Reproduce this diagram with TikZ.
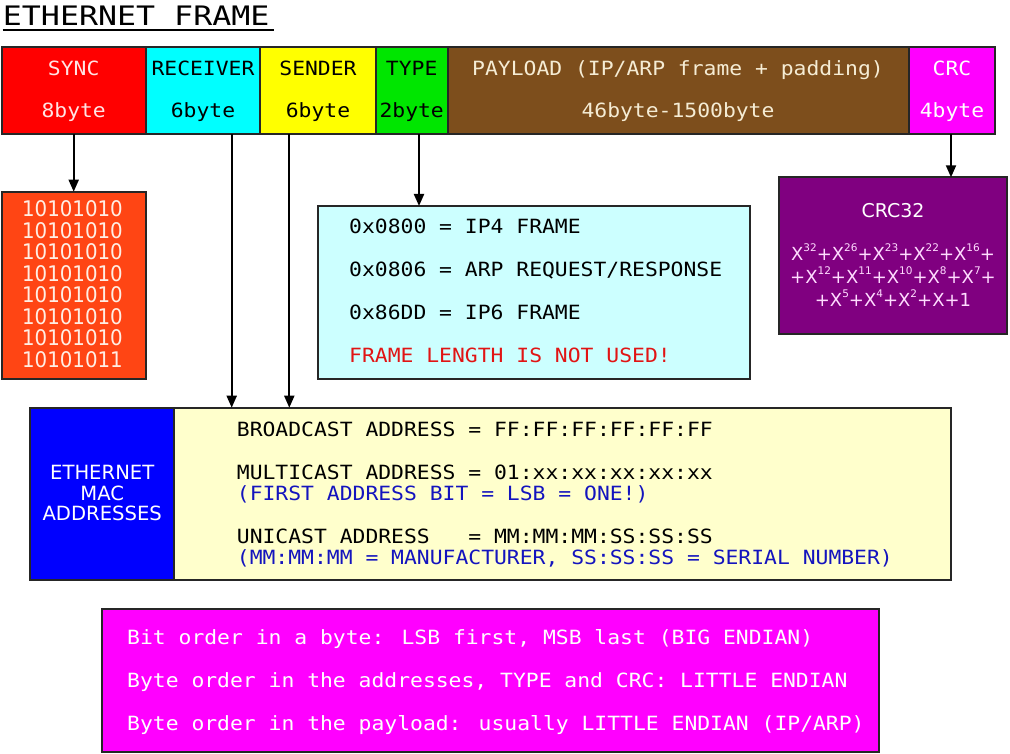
\documentclass[tikz,border=0pt]{standalone}
\usepackage{fontspec}
\setmainfont{DejaVu Sans}
\newfontfamily\monof[FakeStretch=1.09]{DejaVu Sans Mono}
\newfontfamily\titlef[FakeStretch=1.18]{DejaVu Sans Mono}
\newfontfamily\condf[FakeStretch=0.92]{DejaVu Sans}
\usetikzlibrary{arrows.meta,calc}
\newcommand\crcexp[1]{\raisebox{0.5em}{\fontsize{10.5}{10.5}\selectfont #1}}
\definecolor{cSync}{RGB}{255,0,0}
\definecolor{cRecv}{RGB}{0,255,255}
\definecolor{cSend}{RGB}{255,255,0}
\definecolor{cType}{RGB}{0,230,0}
\definecolor{cPay}{RGB}{125,78,28}
\definecolor{cCrc}{RGB}{255,0,255}
\definecolor{cSyncBox}{RGB}{255,69,20}
\definecolor{cTypeBox}{RGB}{204,255,255}
\definecolor{cCrcBox}{RGB}{128,0,128}
\definecolor{cMacL}{RGB}{0,0,255}
\definecolor{cMacR}{RGB}{255,255,204}
\definecolor{cBottom}{RGB}{255,0,255}
\definecolor{tPink}{RGB}{255,228,228}
\definecolor{tCream}{RGB}{245,236,212}
\definecolor{tRed}{RGB}{225,20,20}
\definecolor{tBlue}{RGB}{20,20,190}
\definecolor{tLight}{RGB}{255,238,228}
\definecolor{tCrc}{RGB}{255,220,255}
\begin{document}
\begin{tikzpicture}[x=1pt,y=-1pt,
  box/.style={draw=black!85, line width=2pt, inner sep=0pt, outer sep=0pt, anchor=north west},
  mt/.style={font=\monof\fontsize{19.6}{20}\selectfont, inner sep=0pt},
  mtw/.style={mt, anchor=base west},
  mtc/.style={mt, anchor=base},
  crct/.style={inner sep=0pt, anchor=base, text=tCrc, font=\fontsize{18}{18}\selectfont},
  arr/.style={line width=2pt, draw=black, -{Triangle[length=12pt,width=10pt]}}]
\useasboundingbox (0,0) rectangle (1010,754);
\fill[white] (0,0) rectangle (1010,754);

% title
\node[inner sep=0pt, anchor=base west, font=\titlef\fontsize{26.8}{27}\selectfont] (title) at (2.7,25.3) {ETHERNET FRAME};
\draw[line width=2pt] ([yshift=-5pt]title.base west) -- ([yshift=-5pt,xshift=4pt]title.base east);

% frame cells
\node[box, fill=cSync, minimum width=144pt, minimum height=87pt] (sync) at (1.7,47.3) {};
\node[box, fill=cRecv, minimum width=114.6pt, minimum height=87pt] (recv) at (145.7,47.3) {};
\node[box, fill=cSend, minimum width=115.4pt, minimum height=87pt] (send) at (260.3,47.3) {};
\node[box, fill=cType, minimum width=72pt, minimum height=87pt] (type) at (375.7,47.3) {};
\node[box, fill=cPay, minimum width=461.3pt, minimum height=87pt] (pay) at (447.7,47.3) {};
\node[box, fill=cCrc, minimum width=86pt, minimum height=87pt] (crc) at (909,47.3) {};

\node[mtc, text=tPink] (syncA) at (73.7,75.3) {SYNC};
\node[mtc, text=tPink] (syncB) at (73.7,117.5) {8byte};
\node[mtc] (recvA) at (203,75.3) {RECEIVER};
\node[mtc] (recvB) at (203,117.5) {6byte};
\node[mtc] (sendA) at (318,75.3) {SENDER};
\node[mtc] (sendB) at (318,117.5) {6byte};
\node[mtc] (typeA) at (411.7,75.3) {TYPE};
\node[mtc] (typeB) at (411.7,117.5) {2byte};
\node[mtc, text=tCream] (payA) at (678,75.3) {PAYLOAD (IP/ARP frame + padding)};
\node[mtc, text=tCream] (payB) at (678,117.5) {46byte-1500byte};
\node[mtc, text=white] (crcA) at (952,75.3) {CRC};
\node[mtc, text=white] (crcB) at (952,117.5) {4byte};

% sync box
\node[box, fill=cSyncBox, minimum width=144pt, minimum height=187.6pt] (syncbox) at (1.7,191.7) {};
\foreach \i/\t in {0/10101010,1/10101010,2/10101010,3/10101010,4/10101010,5/10101010,6/10101010,7/10101011}{
  \node[inner sep=0pt, anchor=base, text=tLight, font=\condf\fontsize{21.5}{21.5}\selectfont] (s\i) at (72.5,216.7+21.5*\i) {\t};
}

% type box
\node[box, fill=cTypeBox, minimum width=431.7pt, minimum height=173.3pt] (typebox) at (318.3,206) {};
\node[mtw] (t1) at (349,233.3) {0x0800 = IP4 FRAME};
\node[mtw] (t2) at (349,276.7) {0x0806 = ARP REQUEST/RESPONSE};
\node[mtw] (t3) at (349,319.5) {0x86DD = IP6 FRAME};
\node[mtw, text=tRed] (t4) at (349,362.7) {FRAME LENGTH IS NOT USED!};

% crc box
\node[box, fill=cCrcBox, minimum width=228pt, minimum height=156.7pt] (crcbox) at (779,177.3) {};
\node[inner sep=0pt, anchor=base, text=white, font=\fontsize{19}{19}\selectfont] (c0) at (893,217.7) {CRC32};
\node[crct] (c1) at (893,260.7) {X\crcexp{32}+X\crcexp{26}+X\crcexp{23}+X\crcexp{22}+X\crcexp{16}+};
\node[crct] (c2) at (893,283.3) {+X\crcexp{12}+X\crcexp{11}+X\crcexp{10}+X\crcexp{8}+X\crcexp{7}+};
\node[crct] (c3) at (893,306.7) {+X\crcexp{5}+X\crcexp{4}+X\crcexp{2}+X+1};

% MAC box
\node[box, fill=cMacL, minimum width=144.3pt, minimum height=172.3pt] (macl) at (30,407.7) {};
\node[box, fill=cMacR, minimum width=776.7pt, minimum height=172.3pt] (mac) at (174.3,407.7) {};
\node[inner sep=0pt, anchor=base, text=white, font=\fontsize{19.6}{20}\selectfont] (m1) at (102.2,479.3) {ETHERNET};
\node[inner sep=0pt, anchor=base, text=white, font=\fontsize{19.6}{20}\selectfont] (m2) at (102.2,500) {MAC};
\node[inner sep=0pt, anchor=base, text=white, font=\fontsize{19.6}{20}\selectfont] (m3) at (102.2,520.7) {ADDRESSES};
\node[mtw] (a1) at (236.7,436.7) {BROADCAST ADDRESS = FF:FF:FF:FF:FF:FF};
\node[mtw] (a2) at (236.7,479.3) {MULTICAST ADDRESS = 01:xx:xx:xx:xx:xx};
\node[mtw, text=tBlue] (a3) at (236.7,500.3) {(FIRST ADDRESS BIT = LSB = ONE!)};
\node[mtw] (a4) at (236.7,543) {UNICAST ADDRESS\ \ \ = MM:MM:MM:SS:SS:SS};
\node[mtw, text=tBlue] (a5) at (236.7,564) {(MM:MM:MM = MANUFACTURER, SS:SS:SS = SERIAL NUMBER)};

% bottom box
\node[box, fill=cBottom, minimum width=777pt, minimum height=142.7pt] (bottom) at (102,609.3) {};
\node[mtw, text=white] (b1) at (127,644.5) {Bit order in a byte: LSB first, MSB last (BIG ENDIAN)};
\node[mtw, text=white] (b2) at (127,687.5) {Byte order in the addresses, TYPE and CRC: LITTLE ENDIAN};
\node[mtw, text=white] (b3) at (127,730.5) {Byte order in the payload: usually LITTLE ENDIAN (IP/ARP)};

% connectors
\coordinate (xr) at (231.7,0);
\coordinate (xs) at (289.3,0);
\coordinate (xt) at (419,0);
\coordinate (xc) at (951,0);
\draw[arr] (sync.south) -- (syncbox.north);
\draw[arr] (recv.south -| xr) -- (mac.north -| xr);
\draw[arr] (send.south -| xs) -- (mac.north -| xs);
\draw[arr] (type.south -| xt) -- (typebox.north -| xt);
\draw[arr] (crc.south -| xc) -- (crcbox.north -| xc);
\end{tikzpicture}
\end{document}
